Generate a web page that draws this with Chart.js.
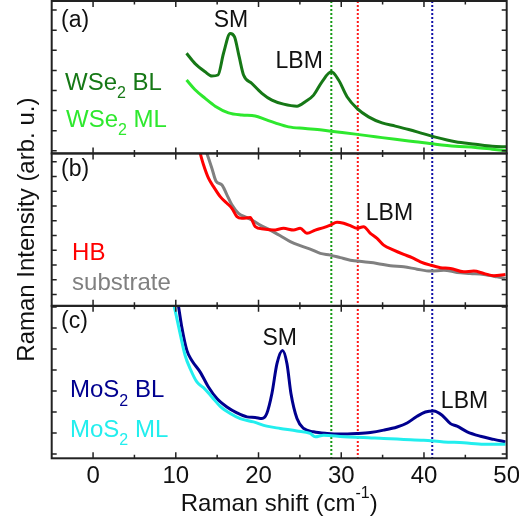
<!DOCTYPE html>
<html>
<head>
<meta charset="utf-8">
<script src="https://cdn.jsdelivr.net/npm/chart.js@4"></script>
<style>
  html, body { margin: 0; padding: 0; background: #fff; }
</style>
</head>
<body>
<canvas id="chart" width="519" height="518"></canvas>
<script>
// ---- data (y in tick units of each panel) ----
const wse2BL_x = [11.3, 12.3, 13.55, 14.36, 15.1, 15.77, 16.58, 17.1, 17.66, 18.19, 19.2, 20.41, 21.62, 23.03, 24.65, 25.65, 26.66, 27.67, 28.8, 29.68, 30.7, 31.9, 33.3, 34.93, 36.54, 38.15, 39.77, 41.38, 43.8, 46.22, 48.24, 50];
const wse2BL_y = [4.85, 4.35, 3.93, 3.72, 3.77, 4.85, 5.84, 5.67, 4.68, 3.77, 3.35, 2.86, 2.52, 2.32, 2.22, 2.44, 2.77, 3.43, 3.93, 3.52, 2.69, 2.11, 1.69, 1.39, 1.23, 1.06, 0.87, 0.68, 0.45, 0.33, 0.23, 0.2];

const wse2ML_x = [11.3, 12.3, 13.55, 14.76, 16.37, 17.99, 19.6, 20.8, 22.0, 23.63, 25.65, 27.67, 29.28, 31.7, 34.12, 36.54, 38.96, 41.38, 43.8, 46.22, 48.24, 50];
const wse2ML_y = [3.52, 3.05, 2.61, 2.22, 1.89, 1.78, 1.73, 1.56, 1.39, 1.19, 1.11, 1.03, 0.95, 0.83, 0.70, 0.57, 0.45, 0.33, 0.23, 0.17, 0.08, 0.0];

const hb_x = [12.95, 13.35, 13.95, 14.56, 15.37, 16.18, 16.78, 17.39, 17.99, 19.0, 19.6, 20.6, 21.8, 23.03, 24.24, 25.04, 25.85, 26.86, 27.87, 28.68, 29.49, 30.29, 31.1, 31.9, 32.7, 33.52, 34.33, 35.13, 36.34, 37.55, 38.56, 39.57, 40.78, 41.99, 43.2, 44.81, 46.02, 47.23, 48.44, 49.85];
const hb_y = [9.57, 8.8, 7.89, 7.32, 6.64, 6.19, 5.85, 5.28, 5.17, 5.22, 4.6, 4.44, 4.37, 4.49, 4.37, 4.49, 4.15, 4.37, 4.54, 4.71, 4.9, 4.83, 4.67, 4.49, 4.6, 4.15, 3.81, 3.35, 3.01, 2.72, 2.5, 2.22, 1.99, 1.82, 1.77, 1.54, 1.59, 1.43, 1.27, 1.36];

const sub_x = [13.76, 14.36, 14.88, 15.57, 16.18, 16.78, 17.58, 18.6, 19.4, 20.2, 21.42, 22.63, 23.84, 25.04, 26.25, 27.47, 28.68, 29.89, 31.1, 32.7, 34.33, 35.94, 37.55, 39.17, 40.78, 42.4, 44.0, 45.6, 47.23, 48.85, 49.85];
const sub_y = [9.57, 8.57, 7.67, 7.44, 6.76, 6.08, 5.51, 5.22, 4.99, 4.71, 4.37, 3.99, 3.59, 3.31, 3.08, 2.79, 2.67, 2.5, 2.33, 2.22, 2.11, 1.95, 1.88, 1.72, 1.59, 1.65, 1.5, 1.43, 1.36, 1.2, 1.09];

const mos2BL_x = [10.32, 10.73, 11.34, 11.94, 12.95, 13.95, 14.97, 16.18, 17.39, 18.6, 19.6, 20.41, 21.0, 21.62, 22.23, 22.9, 23.44, 23.92, 24.65, 25.45, 26.66, 28.28, 29.89, 31.9, 33.52, 35.13, 36.75, 37.96, 39.17, 40.17, 41.18, 42.19, 43.2, 44.0, 45.22, 46.83, 48.44, 49.85];
const mos2BL_y = [7.05, 6.03, 4.93, 4.45, 3.9, 3.19, 2.64, 2.24, 1.96, 1.77, 1.74, 1.69, 1.93, 2.88, 4.3, 4.93, 4.3, 2.88, 1.69, 1.22, 1.06, 0.98, 0.95, 0.98, 1.03, 1.14, 1.29, 1.48, 1.8, 2.0, 2.05, 1.85, 1.45, 1.33, 1.06, 0.85, 0.7, 0.58];

const mos2ML_x = [9.8, 10.53, 11.13, 11.74, 12.55, 13.35, 14.36, 15.37, 16.58, 17.79, 19.4, 21.0, 22.63, 24.65, 26.25, 26.86, 27.87, 30.29, 32.7, 35.13, 37.55, 39.97, 42.4, 44.8, 47.23, 49.85];
const mos2ML_y = [7.05, 5.72, 4.69, 4.06, 3.43, 3.16, 2.72, 2.27, 1.93, 1.69, 1.53, 1.33, 1.22, 1.1, 0.98, 0.82, 0.9, 0.82, 0.79, 0.74, 0.7, 0.66, 0.58, 0.54, 0.47, 0.47];

// dotted markers (Raman shift, cm-1)
const markerX = [28.8, 32.0, 41.0];
const markerColors = ['#159a15', '#ff1a1a', '#1010a8'];

const FONT = '"Liberation Sans", Arial, sans-serif';

function pts(xs, ys) {
    return xs.map((x, i) => ({ x: x, y: ys[i] }));
}

// text placed in data units of each panel
const labels = [
    { axis: 'ya', x: -3.87, y: 6.15, align: 'left', size: 23, color: '#111', parts: [{ t: '(a)' }] },
    { axis: 'ya', x: 16.66, y: 6.15, align: 'center', size: 23, color: '#111', parts: [{ t: 'SM' }] },
    { axis: 'ya', x: 24.92, y: 4.11, align: 'center', size: 23, color: '#111', parts: [{ t: 'LBM' }] },
    { axis: 'ya', x: -3.39, y: 3.02, align: 'left', size: 24, color: '#167816', parts: [{ t: 'WSe' }, { t: '2', sub: true }, { t: ' BL' }] },
    { axis: 'ya', x: -3.27, y: 1.18, align: 'left', size: 24, color: '#2ee82e', parts: [{ t: 'WSe' }, { t: '2', sub: true }, { t: ' ML' }] },
    { axis: 'yb', x: -3.87, y: 8.03, align: 'left', size: 23, color: '#111', parts: [{ t: '(b)' }] },
    { axis: 'yb', x: 35.83, y: 5.03, align: 'center', size: 23, color: '#111', parts: [{ t: 'LBM' }] },
    { axis: 'yb', x: -2.54, y: 2.31, align: 'left', size: 24, color: '#ff0000', parts: [{ t: 'HB' }] },
    { axis: 'yb', x: -2.54, y: 0.34, align: 'left', size: 24, color: '#808080', parts: [{ t: 'substrate' }] },
    { axis: 'yc', x: -3.87, y: 6.02, align: 'left', size: 23, color: '#111', parts: [{ t: '(c)' }] },
    { axis: 'yc', x: 22.57, y: 5.17, align: 'center', size: 23, color: '#111', parts: [{ t: 'SM' }] },
    { axis: 'yc', x: 44.9, y: 2.18, align: 'center', size: 23, color: '#111', parts: [{ t: 'LBM' }] },
    { axis: 'yc', x: -2.79, y: 2.7, align: 'left', size: 24, color: '#00008f', parts: [{ t: 'MoS' }, { t: '2', sub: true }, { t: ' BL' }] },
    { axis: 'yc', x: -2.79, y: 0.81, align: 'left', size: 24, color: '#22eeee', parts: [{ t: 'MoS' }, { t: '2', sub: true }, { t: ' ML' }] }
];

function drawRich(ctx, parts, x, y, align, size, color) {
    const fontOf = p => ((p.sub || p.sup) ? Math.round(size * 0.65) : size) + 'px ' + FONT;
    let w = 0;
    parts.forEach(p => { ctx.font = fontOf(p); w += ctx.measureText(p.t).width; });
    let cx = align === 'center' ? x - w / 2 : x;
    ctx.fillStyle = color;
    ctx.textAlign = 'left';
    ctx.textBaseline = 'alphabetic';
    parts.forEach(p => {
        ctx.font = fontOf(p);
        let dy = 0;
        if (p.sub) dy = size * 0.35;
        if (p.sup) dy = -size * 0.55;
        ctx.fillText(p.t, cx, y + dy);
        cx += ctx.measureText(p.t).width;
    });
}

const panels = ['ya', 'yb', 'yc'];

const framePlugin = {
    id: 'frame',
    beforeDatasetsDraw(chart) {
        const { ctx, chartArea: a, scales } = chart;
        ctx.save();
        ctx.lineWidth = 2;
        ctx.setLineDash([2, 2]);
        markerX.forEach((v, i) => {
            const px = scales.x.getPixelForValue(v);
            ctx.strokeStyle = markerColors[i];
            ctx.beginPath();
            ctx.moveTo(px, a.top);
            ctx.lineTo(px, a.bottom);
            ctx.stroke();
        });
        ctx.restore();
    },
    afterDatasetsDraw(chart) {
        const { ctx, chartArea: a, scales } = chart;
        const xs = scales.x;
        ctx.save();
        ctx.strokeStyle = '#222';
        panels.forEach(id => {
            const s = scales[id];
            ctx.lineWidth = 2;
            ctx.strokeRect(a.left, s.top, a.right - a.left, s.bottom - s.top);
            ctx.lineWidth = 1.5;
            ctx.beginPath();
            for (let v = Math.ceil(s.min); v <= s.max; v++) {
                const py = s.getPixelForValue(v);
                ctx.moveTo(a.left, py); ctx.lineTo(a.left + 5, py);
                ctx.moveTo(a.right, py); ctx.lineTo(a.right - 5, py);
            }
            for (let v = xs.min + 5; v < xs.max; v += 5) {
                const px = xs.getPixelForValue(v);
                const len = v % 10 === 0 ? 6 : 3.5;
                ctx.moveTo(px, s.bottom); ctx.lineTo(px, s.bottom - len);
                ctx.moveTo(px, s.top); ctx.lineTo(px, s.top + len);
            }
            ctx.stroke();
        });

        labels.forEach(l => {
            const px = xs.getPixelForValue(l.x);
            const py = scales[l.axis].getPixelForValue(l.y);
            drawRich(ctx, l.parts, px, py, l.align, l.size, l.color);
        });

        // x axis title with superscript
        drawRich(ctx, [{ t: 'Raman shift (cm' }, { t: '-1', sup: true }, { t: ')' }],
            (a.left + a.right) / 2, 511, 'center', 24, '#111');
        ctx.restore();
    }
};

// fixed sizes so the plot frame lands where it is in the figure
function fixY(s) {
    s.width = 51.7;
    s.paddingTop = 0;
    s.paddingBottom = 0;
}

function fixX(s) {
    s.height = 34;
    s.paddingLeft = 0;
    s.paddingRight = 0;
}

const hiddenY = (min, max) => ({
    type: 'linear',
    position: 'left',
    stack: 'panels',
    stackWeight: 1,
    min: min,
    max: max,
    ticks: { display: false },
    grid: { display: false },
    border: { display: false },
    afterFit: fixY
});

const yb = hiddenY(-0.77, 9.57);
yb.title = {
    display: true,
    text: 'Raman Intensity (arb. u.)',
    color: '#111',
    font: { size: 24, family: FONT },
    padding: { top: 12.6, bottom: 10.3 }
};

const config = {
    type: 'line',
    data: {
        datasets: [
            { label: 'WSe2 BL', data: pts(wse2BL_x, wse2BL_y), yAxisID: 'ya', borderColor: '#167816' },
            { label: 'WSe2 ML', data: pts(wse2ML_x, wse2ML_y), yAxisID: 'ya', borderColor: '#2ee82e' },
            { label: 'HB', data: pts(hb_x, hb_y), yAxisID: 'yb', borderColor: '#ff0000' },
            { label: 'substrate', data: pts(sub_x, sub_y), yAxisID: 'yb', borderColor: '#808080' },
            { label: 'MoS2 ML', data: pts(mos2ML_x, mos2ML_y), yAxisID: 'yc', borderColor: '#22eeee' },
            { label: 'MoS2 BL', data: pts(mos2BL_x, mos2BL_y), yAxisID: 'yc', borderColor: '#00008f' }
        ]
    },
    options: {
        responsive: false,
        animation: false,
        layout: { padding: { left: 0, right: 12.3, top: 1, bottom: 25.7 } },
        plugins: {
            legend: { display: false },
            tooltip: { enabled: false }
        },
        elements: {
            point: { radius: 0 },
            line: { borderWidth: 3, cubicInterpolationMode: 'monotone', fill: false }
        },
        scales: {
            x: {
                type: 'linear',
                min: -5,
                max: 50,
                grid: { display: false },
                border: { display: false },
                afterFit: fixX,
                ticks: {
                    stepSize: 5,
                    padding: -4,
                    autoSkip: false,
                    maxRotation: 0,
                    color: '#111',
                    font: { size: 24, family: FONT },
                    callback: v => (v % 10 === 0 ? v : '')
                }
            },
            yc: hiddenY(-0.2, 7.05),
            yb: yb,
            ya: hiddenY(-0.13, 7.45)
        }
    },
    plugins: [framePlugin]
};

const chart = new Chart(document.getElementById('chart').getContext('2d'), config);
</script>
</body>
</html>
